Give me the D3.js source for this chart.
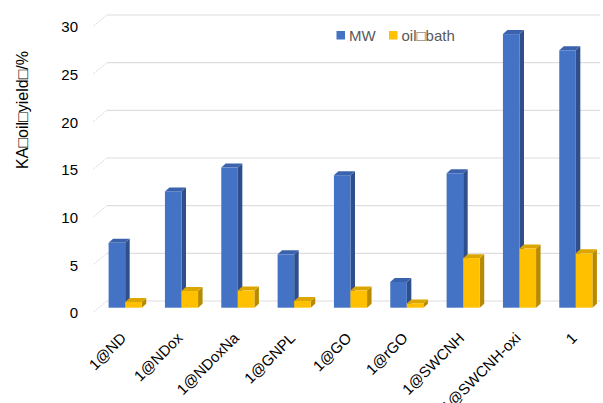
<!DOCTYPE html>
<html>
<head>
<meta charset="utf-8">
<script src="https://cdn.jsdelivr.net/npm/d3@7/dist/d3.min.js"></script>
<style>
  body { margin: 0; background: #fff; }
  svg { display: block; }
  .tick-label { font-family: 'Liberation Sans', Arial, sans-serif; font-size: 15px; fill: #000; }
  .cat-label { font-family: 'Liberation Sans', Arial, sans-serif; font-size: 15px; fill: #000; }
  .legend-label { font-family: 'Liberation Sans', Arial, sans-serif; font-size: 15px; fill: #595959; }
  .axis-title { font-family: 'Liberation Sans', Arial, sans-serif; font-size: 16px; fill: #000; }
</style>
</head>
<body>
<div id="chart"></div>
<script>
const categories = ['1@ND', '1@NDox', '1@NDoxNa', '1@GNPL', '1@GO', '1@rGO', '1@SWCNH', '1@SWCNH-oxi', '1'];
const mwValues = [6.8, 12.2, 14.7, 5.6, 13.9, 2.7, 14.1, 28.7, 27.0];
const oilBathValues = [0.6, 1.75, 1.8, 0.7, 1.8, 0.45, 5.2, 6.2, 5.7];
const yTicks = [0, 5, 10, 15, 20, 25, 30];
const seriesNames = ['MW', 'oil\u25A1bath'];
const yTitle = 'KA\u25A1oil\u25A1yield\u25A1/%';

const width = 603;
const height = 403;

const colors = {
  MW: { front: '#4472c4', side: '#2e4e8c', top: '#3b63ad' },
  oil: { front: '#ffc000', side: '#b88a00', top: '#dca600' }
};

const svg = d3.select('#chart')
  .append('svg')
  .attr('width', width)
  .attr('height', height);

// back wall scale and the bar depth offsets
const yBack = d3.scaleLinear().domain([0, 30]).range([301, 15]);
const barShiftY = 6.7;
const yBar = (v) => yBack(v) + barShiftY;
const wallDx = 13.5;
const wallDy = 11;
const sideDx = 4.5;
const sideDy = 4;

const x0 = d3.scaleBand().domain(categories).range([97, 604]);
const x1 = d3.scaleBand().domain(['MW', 'oil']).range([0, x0.bandwidth()]).paddingOuter(0.7);

// grid lines on the back wall
const grid = svg.append('g').attr('class', 'grid');
grid.selectAll('line.gridLine')
  .data(yTicks)
  .enter()
  .append('line')
  .attr('class', 'gridLine')
  .attr('x1', 107)
  .attr('x2', 600)
  .attr('y1', (d) => yBack(d))
  .attr('y2', (d) => yBack(d))
  .style('stroke', '#dedede')
  .style('stroke-width', 1.2);

// short diagonals from the axis to the back wall
grid.selectAll('line.wallTick')
  .data(yTicks)
  .enter()
  .append('line')
  .attr('class', 'wallTick')
  .attr('x1', 107 - wallDx)
  .attr('x2', 107)
  .attr('y1', (d) => yBack(d) + wallDy)
  .attr('y2', (d) => yBack(d))
  .style('stroke', '#d0d0d0')
  .style('stroke-width', 0.8)
  .style('stroke-dasharray', '2,1');

// y tick labels
svg.append('g')
  .selectAll('text')
  .data(yTicks)
  .enter()
  .append('text')
  .attr('class', 'tick-label')
  .attr('x', 78)
  .attr('y', (d) => yBack(d) + wallDy + 1)
  .attr('dy', '0.35em')
  .attr('text-anchor', 'end')
  .text((d) => d);

// 3D bars
function drawBar(g, x, w, v, c) {
  const y0 = yBar(0);
  const yv = yBar(v);
  g.append('polygon')
    .attr('points', [[x + w, yv], [x + w + sideDx, yv - sideDy], [x + w + sideDx, y0 - sideDy], [x + w, y0]].join(' '))
    .style('fill', c.side);
  g.append('polygon')
    .attr('points', [[x, yv], [x + sideDx, yv - sideDy], [x + w + sideDx, yv - sideDy], [x + w, yv]].join(' '))
    .style('fill', c.top);
  g.append('rect')
    .attr('x', x)
    .attr('y', yv)
    .attr('width', w)
    .attr('height', y0 - yv)
    .style('fill', c.front);
}

const bars = svg.append('g').attr('class', 'bars');
categories.forEach((cat, i) => {
  const g = bars.append('g');
  drawBar(g, x0(cat) + x1('MW'), x1.bandwidth(), mwValues[i], colors.MW);
  drawBar(g, x0(cat) + x1('oil'), x1.bandwidth(), oilBathValues[i], colors.oil);
});

// category labels
svg.append('g')
  .selectAll('text')
  .data(categories)
  .enter()
  .append('text')
  .attr('class', 'cat-label')
  .attr('text-anchor', 'end')
  .attr('transform', (d) => `translate(${x0(d) + x0.bandwidth() / 2 + 2},${339}) rotate(-45)`)
  .text((d) => d);

// y axis title
svg.append('text')
  .attr('class', 'axis-title')
  .attr('text-anchor', 'middle')
  .attr('transform', 'translate(28,110) rotate(-90)')
  .text(yTitle);

// legend
const legend = svg.append('g').attr('class', 'legend');
const legendItems = [
  { name: seriesNames[0], color: colors.MW.front, x: 336.5 },
  { name: seriesNames[1], color: colors.oil.front, x: 389 }
];
legend.selectAll('rect')
  .data(legendItems)
  .enter()
  .append('rect')
  .attr('x', (d) => d.x)
  .attr('y', 31)
  .attr('width', 8.5)
  .attr('height', 8.5)
  .style('fill', (d) => d.color);
legend.selectAll('text')
  .data(legendItems)
  .enter()
  .append('text')
  .attr('class', 'legend-label')
  .attr('x', (d) => d.x + 12.5)
  .attr('y', 41)
  .text((d) => d.name);
</script>
</body>
</html>
